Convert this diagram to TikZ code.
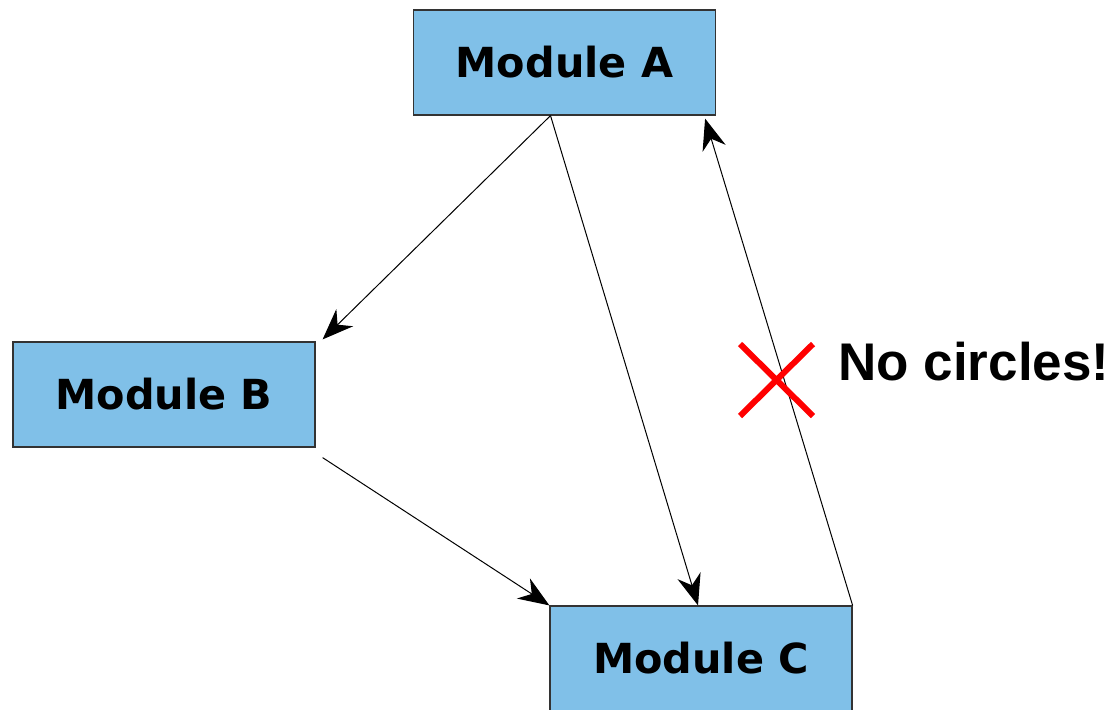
\documentclass[tikz,border=0pt]{standalone}
\usepackage{fontspec}
\usepackage{tikz}
\usetikzlibrary{arrows.meta}
\newfontfamily\modfont{DejaVu Sans}
\newfontfamily\notefont{Liberation Sans}
\definecolor{modblue}{RGB}{128,192,232}
\definecolor{crossred}{RGB}{255,0,0}

\tikzset{
	module/.style={draw=black!80, line width=0.6pt, fill=modblue, minimum width=151pt, minimum height=52.5pt, inner sep=0pt, font=\modfont\bfseries\fontsize{20.7}{25}\selectfont},
	dep/.style={-{Stealth[length=15.5pt,width=12pt,inset=5pt]}, line width=0.5pt}
}

\begin{document}
\begin{tikzpicture}[x=0.5pt, y=-0.5pt]
				\useasboundingbox (0,0) rectangle (1113,709);
				\node[module] (A) at (564.5,62.5) {Module A};
				\node[module] (B) at (164,394.5) {Module B};
				\node[module] (C) at (701,658.5) {Module C};
				\draw[dep] ([xshift=-7pt]A.south) -- ([xshift=3.5pt,yshift=1pt]B.north east);
				\draw[dep] ([xshift=-7pt]A.south) -- ([xshift=-1.5pt]C.north);
				\draw[dep] ([xshift=3.5pt,yshift=-5pt]B.south east) -- (C.north west);
				\draw[dep] (C.north east) -- ([xshift=-5.5pt,yshift=-1.5pt]A.south east);
				\coordinate (x1) at (740,344);
				\coordinate (x2) at (813,416);
				\coordinate (x3) at (813,344);
				\coordinate (x4) at (740,416);
				\draw[crossred, line width=3pt] (x1) -- (x2) (x3) -- (x4);
				\node[anchor=west, inner sep=0pt, font=\notefont\bfseries\fontsize{26.5}{30}\selectfont] (note) at (838,362) {No circles!};
			\end{tikzpicture}
\end{document}
